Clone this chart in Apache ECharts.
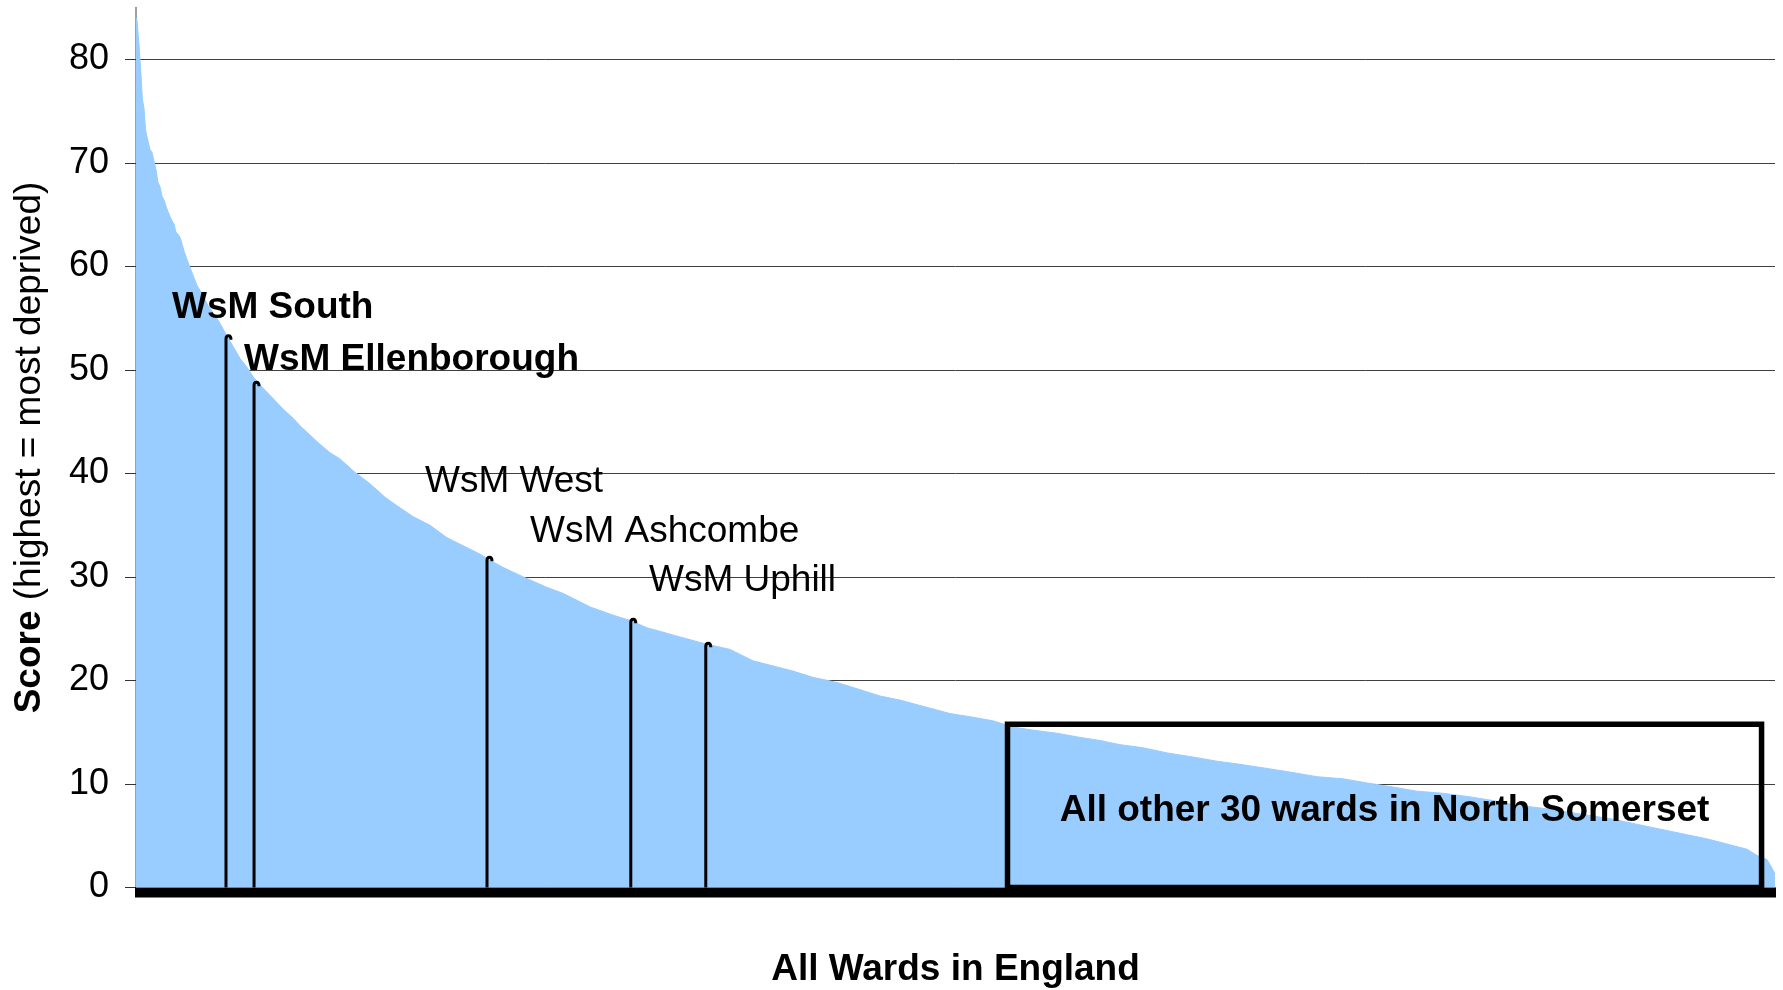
<!DOCTYPE html>
<html>
<head>
<meta charset="utf-8">
<script src="https://cdn.jsdelivr.net/npm/echarts@6/dist/echarts.min.js"></script>
<style>
html,body{margin:0;padding:0;background:#fff;}
#chart{width:1783px;height:990px;}
</style>
</head>
<body>
<div id="chart"></div>
<script>
// Ward rank (1 = most deprived) and deprivation score
const wardRanks = [0,5,15,26,33,41,49,59,72,82,92,103,113,123,133,144,154,164,175,185,195,205,216,226,236,246,257,267,277,312,337,370,414,431,457,500,534,568,602,654,705,756,808,842,945,996,1047,1124,1201,1278,1338,1424,1509,1595,1680,1766,1808,1886,1988,2108,2194,2331,2450,2536,2622,2793,2930,3049,3167,3270,3373,3475,3599,3701,3819,3922,4040,4179,4281,4399,4502,4605,4728,4846,4949,5051,5169,5293,5426,5549,5667,5806,5940,6063,6196,6319,6453,6576,6710,6833,6966,7069,7243,7413,7582,7757,7859,7962,8064,8167,8270,8321,8373,8398,8414];
const wardScores = [84.0,83.8,81.5,78.4,76.1,75.3,73.2,72.3,71.3,71.0,70.2,69.3,68.1,67.7,66.8,66.4,65.8,65.3,64.8,64.4,64.1,63.3,63.1,62.8,62.2,61.5,60.9,60.4,59.9,58.2,57.4,56.2,55.0,54.5,53.6,52.2,51.1,50.3,49.3,48.2,47.2,46.2,45.3,44.6,42.8,42.0,41.4,40.1,39.0,37.7,36.9,35.8,35.0,33.8,33.0,32.2,31.7,30.9,30.0,29.0,28.4,27.1,26.3,25.8,25.1,24.2,23.5,23.0,21.9,21.4,20.9,20.3,19.8,19.2,18.5,18.1,17.5,16.8,16.5,16.1,15.5,15.2,14.9,14.5,14.2,13.8,13.5,13.0,12.6,12.2,11.9,11.5,11.1,10.7,10.5,10.1,9.7,9.3,9.1,8.8,8.4,8.0,7.6,7.1,6.6,5.9,5.5,5.1,4.7,4.2,3.7,3.1,2.7,1.9,1.3];
const totalWards = 8414;

// Highlighted North Somerset wards
const annoNames = ['WsM South','WsM Ellenborough','WsM West','WsM Ashcombe','WsM Uphill'];
const annoRanks = [462, 606, 1802, 2540, 2925];
const annoScores = [53.3, 48.8, 31.9, 25.9, 23.6];

// Range of the other 30 North Somerset wards
const boxRankFrom = 4474;
const boxRankTo = 8345;
const boxScoreTop = 15.76;
const boxLabel = 'All other 30 wards in North Somerset';

const yTicks = [0,10,20,30,40,50,60,70,80];

const FONT = '"Liberation Sans", Arial, Helvetica, sans-serif';
const chart = echarts.init(document.getElementById('chart'), null, {renderer:'canvas'});

const curveData = wardRanks.map((r,i)=>[r, wardScores[i]]);
const annoData = annoRanks.map((r,i)=>[r, annoScores[i]]);

const option = {
  animation: false,
  backgroundColor: '#fff',
  grid: {left:136, right:8, top:7.5, bottom:102.5, containLabel:false, outerBoundsMode:'none'},
  xAxis: {
    type:'value', min:0, max:totalWards, interval:10,
    axisLine:{show:true, lineStyle:{color:'#808080', width:1}},
    axisTick:{show:true, length:10, lineStyle:{color:'#000', width:2}},
    axisLabel:{show:false},
    splitLine:{show:false},
    name:'All Wards in England', nameLocation:'middle', nameGap:64,
    nameTextStyle:{fontFamily:FONT, fontSize:37, fontWeight:'bold', color:'#000'}
  },
  yAxis: {
    type:'value', min:0, max:85, interval:10,
    axisLine:{show:true, lineStyle:{color:'#808080', width:1.5}},
    axisTick:{show:true, length:11, customValues:yTicks, lineStyle:{color:'#333', width:1}},
    axisLabel:{customValues:yTicks, fontFamily:FONT, fontSize:36, color:'#000', margin:27},
    splitLine:{show:true, showMinLine:false, showMaxLine:true, lineStyle:{color:'#404040', width:1}},
    name:'{b|Score} (highest = most deprived)', nameLocation:'middle', nameGap:88,
    nameTextStyle:{fontFamily:FONT, fontSize:37, color:'#000',
      rich:{b:{fontFamily:FONT, fontSize:37, fontWeight:'bold', color:'#000'}}}
  },
  series: [
    {
      type:'line', data:curveData, symbol:'none', showSymbol:false,
      lineStyle:{color:'#99CCFF', width:1},
      areaStyle:{color:'#99CCFF', opacity:1},
      z:2, silent:true
    },
    {
      type:'custom', data:annoData, z:5, silent:true,
      renderItem:function(params, api){
        const top = api.coord([api.value(0), api.value(1)]);
        const bot = api.coord([api.value(0), 0]);
        const x = top[0], y = top[1];
        const d = 'M'+x+','+bot[1]+' L'+x+','+(y+3)+' Q'+x+','+y+' '+(x+2.5)+','+y+' Q'+(x+5)+','+y+' '+(x+5)+','+(y+4);
        return {type:'path', shape:{pathData:d}, style:{fill:null, stroke:'#000', lineWidth:3}};
      }
    },
    {
      type:'custom', data:[[boxRankFrom, boxRankTo, boxScoreTop]], z:6, silent:true,
      renderItem:function(params, api){
        const p0 = api.coord([api.value(0), 0]);
        const p1 = api.coord([api.value(1), api.value(2)]);
        return {type:'group', children:[
          {type:'rect', shape:{x:p0[0], y:p1[1], width:p1[0]-p0[0], height:p0[1]-p1[1]},
           style:{fill:null, stroke:'#000', lineWidth:5.5}},
          {type:'text', x:(p0[0]+p1[0])/2, y:(p0[1]+p1[1])/2+5,
           style:{text:boxLabel, fontFamily:FONT, fontSize:37, fontWeight:'bold', fill:'#000', align:'center', verticalAlign:'middle'}}
        ]};
      }
    }
  ],
  graphic: [
    {type:'text', left:172, top:289, style:{text:annoNames[0], fontFamily:FONT, fontSize:37, fontWeight:'bold', fill:'#000'}, z:10},
    {type:'text', left:244, top:341, style:{text:annoNames[1], fontFamily:FONT, fontSize:37, fontWeight:'bold', fill:'#000'}, z:10},
    {type:'text', left:425, top:463, style:{text:annoNames[2], fontFamily:FONT, fontSize:37, fill:'#000'}, z:10},
    {type:'text', left:530, top:513, style:{text:annoNames[3], fontFamily:FONT, fontSize:37, fill:'#000'}, z:10},
    {type:'text', left:649, top:562, style:{text:annoNames[4], fontFamily:FONT, fontSize:37, fill:'#000'}, z:10}
  ]
};
chart.setOption(option);
</script>
</body>
</html>
